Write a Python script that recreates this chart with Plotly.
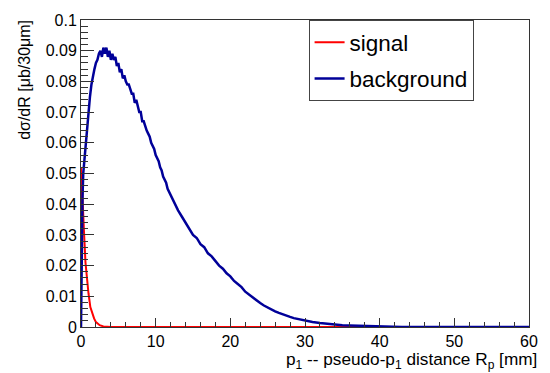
import plotly.graph_objects as go

# ---- data ----
sig_x = [0.0, 0.0, 0.05, 0.15, 0.25, 0.4, 0.6, 0.8, 1.0, 1.25, 1.5, 1.75, 2.0, 2.5, 3.0, 3.5, 4.0, 60.0]
sig_y = [0.0, 0.052, 0.050, 0.045, 0.038, 0.031, 0.021, 0.015, 0.011, 0.0065, 0.0045, 0.0028, 0.0016, 0.0006, 0.0002, 0.0001, 0.0, 0.0]

bkg_x = [0.0, 0.1, 0.2, 0.3, 0.4, 0.6, 0.8, 1.0, 1.2, 1.4, 1.6, 1.8, 2.0, 2.2, 2.4, 2.6, 2.8, 3.0,
         3.2, 3.4, 3.6, 3.8, 4.0, 4.2, 4.4, 4.6, 4.8, 5.0, 5.2, 5.4, 5.6, 5.8, 6.0, 6.2, 6.4, 6.6,
         6.8, 7.0, 7.2, 7.4, 7.6, 7.8, 8.0, 8.2, 8.4, 8.6, 8.8, 9.0, 9.2, 9.4, 9.6, 9.8, 10.0,
         10.2, 10.4, 10.6, 10.8, 11.0, 11.2, 11.4, 11.6, 11.8, 12.0, 12.5, 13.0, 13.5, 14.0,
         14.5, 15.0, 15.5, 16.0, 16.5, 17.0, 17.5, 18.0, 18.5, 19.0, 19.5, 20.0, 20.5, 21.0,
         21.5, 22.0, 22.5, 23.0, 23.5, 24.0, 24.5, 25.0, 25.5, 26.0, 26.5, 27.0, 27.5, 28.0,
         28.5, 29.0, 29.5, 30.0, 31.0, 32.0, 33.0, 34.0, 35.0, 36.0, 37.0, 38.0, 39.0, 40.0,
         41.0, 42.0, 43.0, 44.0, 45.0, 60.0]
bkg_y = [0.0, 0.030, 0.042, 0.050, 0.053, 0.058, 0.065, 0.071, 0.075, 0.079, 0.082, 0.084, 0.086,
         0.087, 0.089, 0.090, 0.088, 0.091, 0.089, 0.091, 0.088, 0.090, 0.087, 0.089, 0.087,
         0.088, 0.085, 0.086, 0.083, 0.084, 0.081, 0.082, 0.080, 0.079, 0.079, 0.077, 0.076,
         0.076, 0.073, 0.074, 0.072, 0.070, 0.070, 0.067, 0.067, 0.065, 0.064, 0.063, 0.062,
         0.060, 0.059, 0.058, 0.056, 0.055, 0.054, 0.052, 0.051, 0.049, 0.048, 0.047, 0.045,
         0.044, 0.043, 0.040, 0.038, 0.036, 0.034, 0.032, 0.030, 0.029, 0.027, 0.026, 0.024,
         0.023, 0.0215, 0.020, 0.019, 0.0175, 0.0165, 0.015, 0.014, 0.013, 0.0115, 0.0105,
         0.0095, 0.0087, 0.0078, 0.0070, 0.0063, 0.0057, 0.0051, 0.0046, 0.0041, 0.0037,
         0.0033, 0.0029, 0.0026, 0.0023, 0.0020, 0.0016, 0.0013, 0.0010, 0.0008, 0.0006,
         0.0005, 0.0004, 0.0003, 0.0002, 0.00015, 0.0001, 0.00007, 0.00004, 0.00002, 0.0, 0.0]

x_ticks = [0, 10, 20, 30, 40, 50, 60]
y_ticks = [0, 0.01, 0.02, 0.03, 0.04, 0.05, 0.06, 0.07, 0.08, 0.09, 0.1]
y_tick_text = ["0", "0.01", "0.02", "0.03", "0.04", "0.05", "0.06", "0.07", "0.08", "0.09", "0.1"]

FONT = "Liberation Sans, Arial, Helvetica, sans-serif"

fig = go.Figure()
fig.add_trace(go.Scatter(x=sig_x, y=sig_y, mode="lines", name="signal",
                         line=dict(color="#ff0000", width=2), legendgroup="s"))
fig.add_trace(go.Scatter(x=bkg_x, y=bkg_y, mode="lines", name="background",
                         line=dict(color="#000099", width=2.5), legendgroup="b"))

fig.update_layout(
    width=550, height=373,
    margin=dict(l=81, r=12, t=17, b=46),
    paper_bgcolor="white", plot_bgcolor="white",
    font=dict(family=FONT, size=16, color="black"),
    showlegend=True,
    legend=dict(x=0.508, y=1.0, xanchor="left", yanchor="top",
                bordercolor="#444", borderwidth=1, bgcolor="white",
                font=dict(family=FONT, size=22.5), tracegroupgap=4,
                itemwidth=30),
    xaxis=dict(range=[0, 60], tickvals=x_ticks, ticks="inside", ticklen=9,
               tickcolor="#333", showgrid=False, zeroline=False,
               showline=True, linecolor="#333", linewidth=1, mirror=True,
               minor=dict(dtick=2, ticks="inside", ticklen=5, tickcolor="#333"),
               tickfont=dict(size=16)),
    yaxis=dict(range=[0, 0.1], tickvals=y_ticks, ticktext=y_tick_text,
               ticks="inside", ticklen=13, tickcolor="#333", showgrid=False,
               zeroline=False, showline=True, linecolor="#333", linewidth=1,
               mirror=True,
               minor=dict(dtick=0.002, ticks="inside", ticklen=7, tickcolor="#333"),
               tickfont=dict(size=16)),
    annotations=[
        dict(text="p<sub>1</sub> -- pseudo-p<sub>1</sub> distance R<sub>p</sub> [mm]",
             xref="paper", yref="paper", x=1.022, y=-0.11, xanchor="right",
             yanchor="middle", showarrow=False, font=dict(size=17.2)),
        dict(text="dσ/dR [μb/30μm]", xref="paper", yref="paper", x=-0.125,
             y=1.007, xanchor="center", yanchor="top", textangle=-90,
             showarrow=False, font=dict(size=16)),
    ],
)

fig.write_html("out.html", config={"displayModeBar": False},
               post_script="document.body.style.margin='0px';")
